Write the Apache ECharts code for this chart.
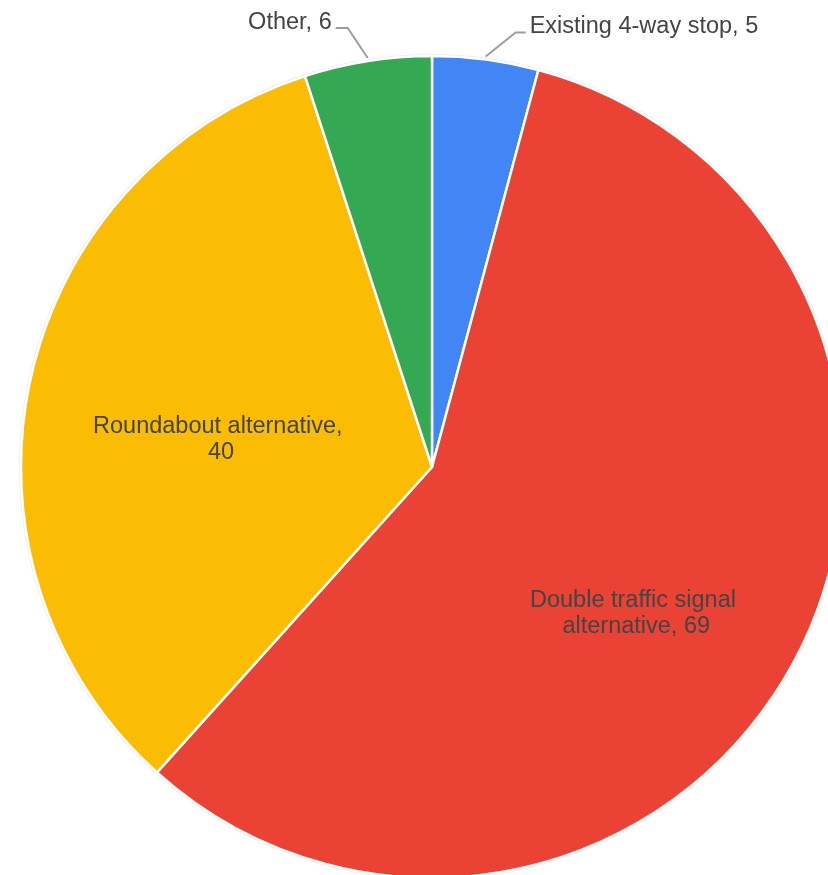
<!DOCTYPE html>
<html>
<head>
<meta charset="utf-8">
<script src="https://cdn.jsdelivr.net/npm/echarts@6/dist/echarts.min.js"></script>
<style>
  html, body { margin: 0; padding: 0; background: #ffffff; }
  #chart { width: 828px; height: 875px; }
</style>
</head>
<body>
<div id="chart"></div>
<script>
// Survey responses: preferred intersection treatment
const categories = [
  'Existing 4-way stop',
  'Double traffic signal alternative',
  'Roundabout alternative',
  'Other'
];
const responses = [5, 69, 40, 6];
const sliceColors = ['#4285f4', '#ea4335', '#fbbc04', '#34a853'];
// Slices whose label sits outside the pie with a leader line
const outsideLabels = [true, false, false, true];

const textStyle = {
  fontFamily: '"Liberation Sans", Arial, sans-serif',
  fontSize: 23.5,
  color: '#444444'
};

const seriesData = categories.map((name, i) => ({
  name: name,
  value: responses[i],
  itemStyle: { color: sliceColors[i] },
  label: outsideLabels[i]
    ? { position: 'outside' }
    : { position: 'inside', width: 262, overflow: 'break', lineHeight: 25.5, align: 'center' },
  labelLine: { show: outsideLabels[i] }
}));

// Inner labels sit a little off the mid-radius point of their slice
const innerNudge = { 1: [21, 47], 2: [-7, 16] };
// Leader-line shape for outer labels: elbow offset from the slice edge, then a short run
const leaderShape = {
  0: { ex: 30, ey: -24, run: 10, side: 1 },
  3: { ex: -20, ey: -30, run: 12, side: -1 }
};

const chart = echarts.init(document.getElementById('chart'), null, { renderer: 'canvas' });
chart.setOption({
  animation: false,
  backgroundColor: '#ffffff',
  series: [
    {
      // faint outline just outside the pie
      type: 'pie',
      silent: true,
      center: [432, 467],
      radius: 413,
      startAngle: 90,
      data: [{ value: 1, itemStyle: { color: '#ececec' } }],
      label: { show: false },
      labelLine: { show: false }
    },
    {
      type: 'pie',
      center: [432, 467],
      radius: 411,
      startAngle: 90,
      clockwise: true,
      avoidLabelOverlap: false,
      itemStyle: { borderColor: '#ffffff', borderWidth: 2.5 },
      label: Object.assign({ formatter: '{b}, {c}', distanceToLabelLine: 4 }, textStyle),
      labelLine: {
        length: 30,
        length2: 12,
        smooth: false,
        lineStyle: { color: '#9e9e9e', width: 2 }
      },
      labelLayout: function (params) {
        const n = innerNudge[params.dataIndex];
        if (n) return { dx: n[0], dy: n[1] };
        const s = leaderShape[params.dataIndex];
        if (s && params.labelLinePoints) {
          const edge = params.labelLinePoints[0];
          const start = [edge[0], edge[1] - 3];
          const elbow = [start[0] + s.ex, start[1] + s.ey];
          const end = [elbow[0] + s.side * s.run, elbow[1]];
          return {
            x: end[0] + s.side * 4,
            y: end[1] - 6,
            align: s.side > 0 ? 'left' : 'right',
            verticalAlign: 'middle',
            labelLinePoints: [start, elbow, end]
          };
        }
        return {};
      },
      data: seriesData
    }
  ]
});
</script>
</body>
</html>
